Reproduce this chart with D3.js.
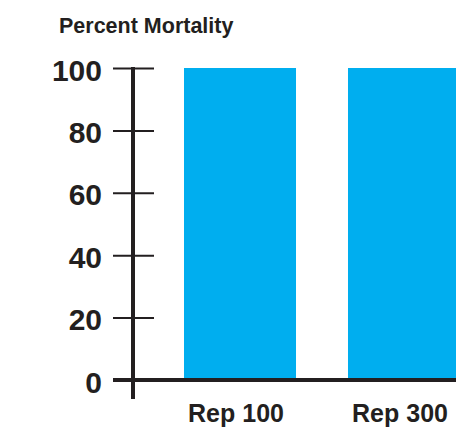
<!DOCTYPE html>
<html>
<head>
<meta charset="utf-8">
<script src="https://cdn.jsdelivr.net/npm/d3@7"></script>
<style>
  html, body { margin: 0; padding: 0; background: #fff; }
  svg text { font-family: "Liberation Sans", Arial, Helvetica, sans-serif; font-weight: bold; fill: #231f20; }
</style>
</head>
<body>
<svg id="chart" width="456" height="427"></svg>
<script>
// chart data
const categories = ["Rep 100", "Rep 300"];
const mortality = [100, 100];
const yTicks = [0, 20, 40, 60, 80, 100];
const yTitle = "Percent Mortality";

const svg = d3.select("#chart");
const ink = "#231f20";

const y = d3.scaleLinear().domain([0, 100]).range([380, 68]);
const x = d3.scaleBand()
    .domain(categories)
    .range([184, 460])
    .paddingInner(0.317)
    .paddingOuter(0);

// bars
svg.append("g").selectAll("rect")
    .data(categories)
    .enter().append("rect")
    .attr("x", d => x(d))
    .attr("y", (d, i) => y(mortality[i]))
    .attr("width", x.bandwidth())
    .attr("height", (d, i) => y(0) - y(mortality[i]))
    .attr("fill", "#00aeef");

// y axis, ticks cross the spine
const axisX = 133;
const yAxis = svg.append("g")
    .attr("transform", "translate(" + axisX + ",0)")
    .call(d3.axisLeft(y).tickValues(yTicks).tickSize(20).tickPadding(10));
yAxis.select(".domain").remove();
yAxis.selectAll(".tick line")
    .attr("x1", -20).attr("x2", 21)
    .attr("stroke", ink).attr("stroke-width", 2);
yAxis.selectAll(".tick text")
    .attr("x", -31)
    .attr("dy", "0.4em")
    .style("font-size", "30px");

svg.append("line")
    .attr("x1", axisX).attr("x2", axisX)
    .attr("y1", y(100) - 1).attr("y2", 399)
    .attr("stroke", ink).attr("stroke-width", 4);

// baseline
svg.append("line")
    .attr("x1", 113).attr("x2", 456)
    .attr("y1", y(0)).attr("y2", y(0))
    .attr("stroke", ink).attr("stroke-width", 4);

// category labels
svg.append("g").selectAll("text")
    .data(categories)
    .enter().append("text")
    .attr("x", d => x(d) + x.bandwidth() / 2 - 4)
    .attr("y", 422)
    .attr("text-anchor", "middle")
    .style("font-size", "25px")
    .text(d => d);

// axis title
svg.append("text")
    .attr("x", 59)
    .attr("y", 33)
    .style("font-size", "21.5px")
    .text(yTitle);
</script>
</body>
</html>
